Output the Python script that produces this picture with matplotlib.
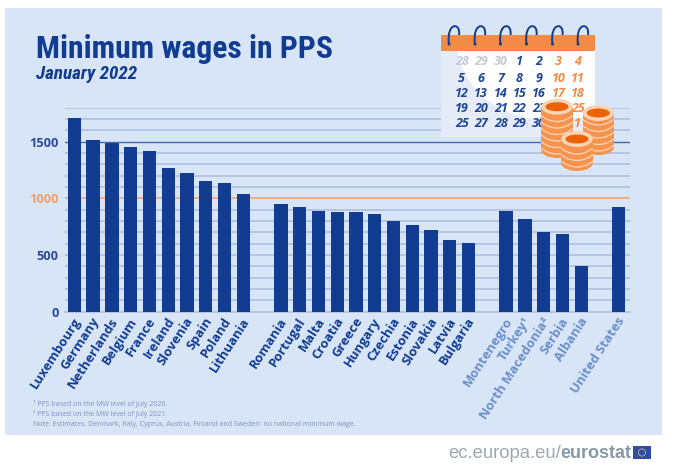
import matplotlib
matplotlib.use("Agg")
import matplotlib.pyplot as plt
from matplotlib.patches import Rectangle, Ellipse, PathPatch, Circle
from matplotlib.path import Path
from matplotlib.transforms import ScaledTranslation
from matplotlib import font_manager as fm

W, H = 674, 472

countries_eu = ["Luxembourg", "Germany", "Netherlands", "Belgium", "France", "Ireland", "Slovenia", "Spain",
                "Poland", "Lithuania", "Romania", "Portugal", "Malta", "Croatia", "Greece", "Hungary",
                "Czechia", "Estonia", "Slovakia", "Latvia", "Bulgaria"]
positions_eu = [0, 1, 2, 3, 4, 5, 6, 7, 8, 9, 11, 12, 13, 14, 15, 16, 17, 18, 19, 20, 21]
values_eu = [1709, 1518, 1492, 1456, 1418, 1271, 1227, 1156, 1136, 1041, 950, 921, 886, 880, 880, 862, 798, 765, 720, 635, 606]

countries_other = ["Montenegro", "Turkey¹", "North Macedonia²", "Serbia", "Albania", "United States"]
positions_other = [23, 24, 25, 26, 27, 29]
values_other = [890, 820, 706, 686, 403, 925]

y_ticks = [0, 500, 1000, 1500]
grid_levels = list(range(100, 1900, 100))

NAVY = "#113c92"
LIGHT = "#6b8fca"
ORANGE = "#f28c45"
PANEL = "#d8e5f7"

names = {f.name for f in fm.fontManager.ttflist}
narrow = [n for n in ["Liberation Sans Narrow", "Roboto Condensed", "Open Sans Condensed", "Noto Sans Condensed"] if n in names]
title_font = narrow[0] if narrow else "Roboto"
label_font = "Open Sans"

fig = plt.figure(figsize=(W / 100, H / 100), dpi=100, facecolor="white")


def frame(px0, py0, px1, py1):
    return [px0 / W, 1 - py1 / H, (px1 - px0) / W, (py1 - py0) / H]


bg = fig.add_axes([0, 0, 1, 1], zorder=0)
bg.set_xlim(0, W); bg.set_ylim(H, 0); bg.axis("off")
bg.add_patch(Rectangle((5, 8), 657, 427, fc=PANEL, ec="none"))

ax = fig.add_axes(frame(65, 107.7, 630, 311.7), zorder=1)
ax.patch.set_alpha(0)
ax.set_xlim(-0.5, 29.6)
ax.set_ylim(0, 1800)

for lv in grid_levels:
    col, lw = "#b3c2e2", 1.3
    if lv == 1000:
        col, lw = "#f4a878", 1.3
    elif lv == 1500:
        col, lw = "#4468b0", 1.0
    ax.axhline(lv, color=col, lw=lw, zorder=1)
ax.axhline(0, color="#b3c2e2", lw=1.3, zorder=1, clip_on=False)

ax.bar(positions_eu, values_eu, width=0.71, color=NAVY, zorder=3)
ax.bar(positions_other, values_other, width=0.71, color=NAVY, zorder=3)

for s in ax.spines.values():
    s.set_visible(False)

ax.tick_params(axis="y", length=0, pad=4.5)
ax.tick_params(axis="x", length=0, pad=6)

ax.set_yticks(y_ticks)
ax.set_yticklabels([str(v) for v in y_ticks], fontsize=9.2, fontweight="bold", family=label_font, color="#2b4a9b")
ax.get_yticklabels()[2].set_color("#f2a068")

ax.set_xticks(positions_eu + positions_other)
ax.set_xticklabels(countries_eu + countries_other, rotation=57, ha="right", va="center",
                   rotation_mode="anchor", fontsize=9.4, fontweight="bold", family=label_font, color=NAVY)
shift = ScaledTranslation(3.5 / 100, 1.5 / 100, fig.dpi_scale_trans)
for t in ax.get_xticklabels():
    t.set_transform(t.get_transform() + shift)
for t in ax.get_xticklabels()[len(countries_eu):]:
    t.set_color(LIGHT)

ov = fig.add_axes([0, 0, 1, 1], zorder=2)
ov.set_xlim(0, W); ov.set_ylim(H, 0); ov.axis("off")
ov.patch.set_alpha(0)

ttl = ov.text(36, 57.5, "Minimum wages in PPS", fontsize=20, fontweight="bold", family=title_font, color=NAVY, va="baseline")
sub = ov.text(36, 79, "January 2022", fontsize=12, fontweight="bold", style="italic", family=title_font, color=NAVY, va="baseline")
fig.canvas.draw()
rend = fig.canvas.get_renderer()
ttl.set_fontsize(20 * 296 / ttl.get_window_extent(rend).width)
sub.set_fontsize(12 * 101 / sub.get_window_extent(rend).width)

note_color = "#7f92c0"
for y, s in [(406, "¹ PPS based on the MW level of July 2020."),
             (416, "² PPS based on the MW level of July 2021."),
             (426, "Note: Estimates. Denmark, Italy, Cyprus, Austria, Finland and Sweden: no national minimum wage.")]:
    ov.text(33, y, s, fontsize=5.0, family=label_font, color=note_color, va="baseline")

ov.text(448, 458, "ec.europa.eu/", fontsize=13.3, family="Liberation Sans", color="#9aa9b5", va="baseline")
ov.text(560, 458, "eurostat", fontsize=13, fontweight="bold", family="Liberation Sans", color="#8798a6", va="baseline")
ov.add_patch(Rectangle((633, 446), 18, 13, fc="#2f4da3", ec="none"))
ov.add_patch(Circle((642, 452.5), 3.6, fc="none", ec="#c8b66a", lw=0.6))

# calendar
ov.add_patch(Rectangle((441, 51), 154, 85.5, fc="#e6ecf7", ec="none", zorder=2))
white = Path([(458, 51), (464, 90), (495, 112), (530, 118), (595, 118), (595, 51), (458, 51)],
             [Path.MOVETO, Path.CURVE4, Path.CURVE4, Path.CURVE4, Path.LINETO, Path.LINETO, Path.CLOSEPOLY])
ov.add_patch(PathPatch(white, fc="white", ec="none", zorder=2))
ov.add_patch(Rectangle((441, 35), 154, 16, fc=ORANGE, ec="none", zorder=3))
for x in [449, 475, 500.5, 526.5, 552.5, 578]:
    ring = Path([(x, 44), (x - 3, 22), (x + 12, 22), (x + 10, 35)],
                [Path.MOVETO, Path.CURVE4, Path.CURVE4, Path.CURVE4])
    ov.add_patch(PathPatch(ring, fc="none", ec=NAVY, lw=1.4, zorder=4))
    ov.add_patch(Circle((x, 44), 1.5, fc=NAVY, ec="none", zorder=4))

day_x = [461.7, 481, 500.7, 519.3, 538.7, 558.3, 577.7]
day_y = [61.7, 78.3, 93.3, 108.7, 123.3]
G, B, O = "#c4c8d2", "#1f4596", "#f28c45"
rows = [[("28", G), ("29", G), ("30", G), ("1", B), ("2", B), ("3", O), ("4", O)],
        [("5", B), ("6", B), ("7", B), ("8", B), ("9", B), ("10", O), ("11", O)],
        [("12", B), ("13", B), ("14", B), ("15", B), ("16", B), ("17", O), ("18", O)],
        [("19", B), ("20", B), ("21", B), ("22", B), ("23", B), ("", O), ("25", O)],
        [("25", B), ("27", B), ("28", B), ("29", B), ("30", B), ("", O), ("1", O)]]
for yy, row in zip(day_y, rows):
    for xx, (s, c) in zip(day_x, row):
        ov.text(xx, yy, s, fontsize=9, fontweight="bold", style="italic", family=label_font, color=c,
                ha="center", va="center", zorder=5)


def coins(cx, top, bottom, z):
    rx, ry = 15.7, 8
    ov.add_patch(Rectangle((cx - rx, top), 2 * rx, bottom - top, fc="#f5934f", ec="none", zorder=z))
    ov.add_patch(Ellipse((cx, bottom), 2 * rx, 2 * ry, fc="#f5934f", ec="none", zorder=z))
    y = bottom - 2
    while y > top + 3:
        arc = Path([(cx - rx, y), (cx - 7, y + 8), (cx + 7, y + 8), (cx + rx, y)],
                   [Path.MOVETO, Path.CURVE4, Path.CURVE4, Path.CURVE4])
        ov.add_patch(PathPatch(arc, fc="none", ec="#fbd0ae", lw=1.0, zorder=z + 0.1))
        y -= 6.5
    ov.add_patch(Ellipse((cx, top), 2 * rx, 2 * ry, fc="#fbd3b5", ec="none", zorder=z + 0.2))
    ov.add_patch(Ellipse((cx, top), 23, 9, fc="#ee6206", ec="none", zorder=z + 0.3))


coins(557, 106.7, 150, 6)
coins(598.3, 113, 147, 6)
coins(577, 139, 163, 7)

fig.savefig("out.png", dpi=100, facecolor="white")
